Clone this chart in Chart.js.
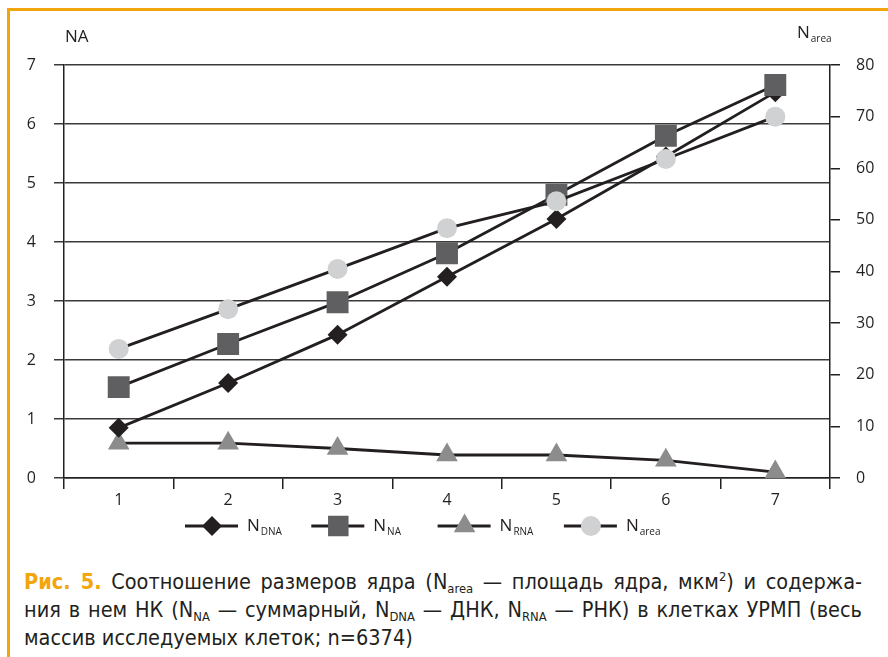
<!DOCTYPE html>
<html>
<head>
<meta charset="utf-8">
<script src="https://cdn.jsdelivr.net/npm/chart.js@4.4.0/dist/chart.umd.min.js"></script>
<style>
  body { margin: 0; background: #fff; width: 888px; height: 657px; overflow: hidden; position: relative; }
  #frame { position: absolute; left: 7px; top: 8px; right: 0; bottom: 0; border-top: 3px solid #f2a50c; border-left: 3px solid #f2a50c; }
  #wrap { position: absolute; left: 0; top: 0; width: 888px; height: 560px; }
  #caption { position: absolute; left: 24px; top: 568px; width: 838px; color: #231f20;
    font-family: "DejaVu Sans Condensed", "DejaVu Sans", sans-serif; font-stretch: condensed;
    font-size: 21.5px; line-height: 28px; }
  .j { text-align: justify; text-align-last: justify; }
  .fig { color: #f2a50c; font-weight: bold; }
  sub { font-size: 60%; vertical-align: -0.3em; line-height: 0; }
  sup { font-size: 60%; vertical-align: 0.6em; line-height: 0; }
</style>
</head>
<body>
<div id="frame"></div>
<div id="wrap"><canvas id="naChart"></canvas></div>
<div id="caption">
  <div class="j"><span class="fig">Рис. 5.</span> Соотношение размеров ядра (N<sub>area</sub> — площадь ядра, мкм<sup>2</sup>) и содержа-</div>
  <div class="j">ния в нем НК (N<sub>NA</sub> — суммарный, N<sub>DNA</sub> — ДНК, N<sub>RNA</sub> — РНК) в клетках УРМП (весь</div>
  <div>массив исследуемых клеток; n=6374)</div>
</div>
<script>
const categories = ["1", "2", "3", "4", "5", "6", "7"];
const nDNA = [0.85, 1.61, 2.43, 3.41, 4.39, 5.45, 6.54];
const nNA = [1.54, 2.27, 2.98, 3.81, 4.80, 5.80, 6.66];
const nRNA = [0.59, 0.59, 0.50, 0.39, 0.39, 0.30, 0.10];
const nArea = [25.0, 32.7, 40.5, 48.4, 53.6, 61.8, 70.0];

const INK = "#231f20";
const FONT = "'Open Sans', 'DejaVu Sans', sans-serif";

const legendItems = [
  { sub: "DNA", pointStyle: "rectRot", color: "#231f20", radius: 10 },
  { sub: "NA", pointStyle: "rect", color: "#5f5f61", radius: 14.5 },
  { sub: "RNA", pointStyle: "triangle", color: "#8c8c8c", radius: 12.5 },
  { sub: "area", pointStyle: "circle", color: "#d0d1d3", radius: 10 },
];

function subText(ctx, x, y, main, sub, size) {
  ctx.font = `${size}px ${FONT}`;
  ctx.textAlign = "left";
  ctx.textBaseline = "middle";
  ctx.fillStyle = INK;
  ctx.fillText(main, x, y);
  const w = ctx.measureText(main).width;
  ctx.font = `${Math.round(size * 0.58)}px ${FONT}`;
  ctx.fillText(sub, x + w + 1, y + size * 0.38);
}

const extras = {
  id: "extras",
  afterDraw(chart) {
    const ctx = chart.ctx;
    ctx.save();
    // axis titles
    ctx.font = `17px ${FONT}`;
    ctx.fillStyle = INK;
    ctx.textBaseline = "middle";
    ctx.fillText("NA", 65, 37);
    subText(ctx, 797, 33, "N", "area", 17);

    // legend: line through marker
    const y = 526;
    legendItems.forEach((it, i) => {
      const cx = 212 + i * 126.3;
      ctx.strokeStyle = INK;
      ctx.lineWidth = 3;
      ctx.beginPath();
      ctx.moveTo(cx - 27, y);
      ctx.lineTo(cx + 26, y);
      ctx.stroke();
      ctx.fillStyle = it.color;
      Chart.helpers.drawPoint(ctx, { pointStyle: it.pointStyle, radius: it.radius, borderWidth: 0, rotation: 0 }, cx, y);
      subText(ctx, cx + 35, y, "N", it.sub, 17);
    });
    ctx.restore();
  },
};

function series(label, data, style, color, radius, axis, order) {
  return {
    label,
    data,
    yAxisID: axis,
    order,
    borderColor: INK,
    borderWidth: 2.8,
    pointStyle: style,
    pointRadius: radius,
    pointHoverRadius: radius,
    pointBackgroundColor: color,
    pointBorderWidth: 0,
    tension: 0,
    fill: false,
  };
}

new Chart(document.getElementById("naChart"), {
  type: "line",
  data: {
    labels: categories,
    datasets: [
      series("N_DNA", nDNA, "rectRot", "#231f20", 10, "y", 2),
      series("N_NA", nNA, "rect", "#5f5f61", 15.5, "y", 1),
      series("N_RNA", nRNA, "triangle", "#8c8c8c", 12.5, "y", 3),
      series("N_area", nArea, "circle", "#d0d1d3", 10, "y2", 0),
    ],
  },
  options: {
    responsive: true,
    maintainAspectRatio: false,
    animation: false,
    layout: { padding: { top: 65, bottom: 42, left: 0, right: 0 } },
    scales: {
      x: {
        offset: true,
        afterFit: (s) => { s.height = 40; },
        grid: { offset: true, drawOnChartArea: false, drawTicks: true, tickLength: 11, color: INK, lineWidth: 1.5 },
        border: { display: true, color: INK, width: 1.5 },
        ticks: { color: INK, padding: 2, font: { size: 16, family: FONT } },
      },
      y: {
        position: "left",
        min: 0,
        max: 7,
        afterFit: (s) => { s.width = 64; },
        grid: { color: "#3a3a3a", lineWidth: 1.5, tickLength: 10 },
        border: { display: true, color: INK, width: 1.5 },
        ticks: { stepSize: 1, color: INK, padding: 18, font: { size: 16, family: FONT } },
      },
      y2: {
        position: "right",
        min: 0,
        max: 80,
        afterFit: (s) => { s.width = 58; },
        grid: { drawOnChartArea: false, color: INK, lineWidth: 1.5, tickLength: 10 },
        border: { display: true, color: INK, width: 1.5 },
        ticks: { stepSize: 10, color: INK, padding: 16, font: { size: 16, family: FONT } },
      },
    },
    plugins: {
      legend: { display: false },
      tooltip: { enabled: false },
    },
  },
  plugins: [extras],
});
</script>
</body>
</html>
